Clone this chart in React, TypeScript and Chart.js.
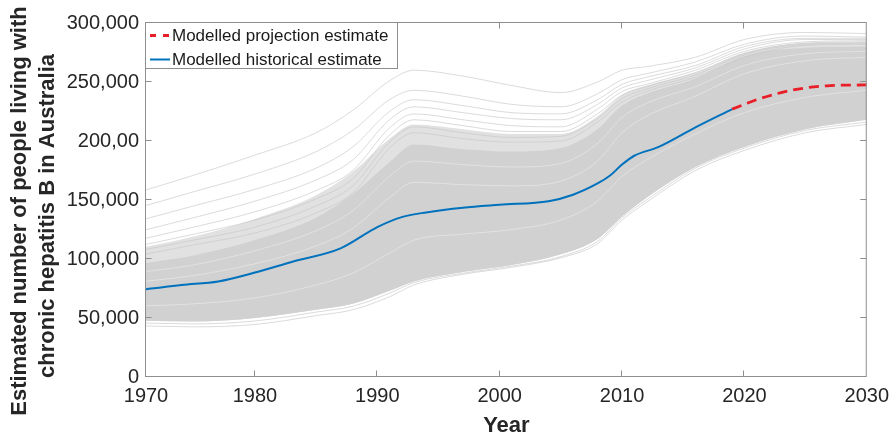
import { useEffect, useRef } from 'react';
import { Chart, registerables } from 'chart.js';

Chart.register(...registerables);

const FONT = '"Liberation Sans", Arial, Helvetica, sans-serif';

// Axis range and ticks
const X_MIN = 1971.1;
const X_MAX = 2030;
const X_TICKS = [1970, 1980, 1990, 2000, 2010, 2020, 2030];
const X_TICK_LABELS = ['1970', '1980', '1990', '2000', '2010', '2020', '2030'];
const Y_TICKS = [0, 50000, 100000, 150000, 200000, 250000, 300000];
const Y_TICK_LABELS = ['0', '50,000', '100,000', '150,000', '200,00', '250,000', '300,000'];

// Years at which each simulated trajectory is sampled
const SIM_YEARS = [1970, 1975, 1980, 1985, 1988, 1991, 1993, 1997, 2001, 2005, 2008, 2010, 2012, 2016, 2020, 2025, 2030];

// Simulated trajectories (thousands of people), highest first
const SIM_HIGH_1 = [155, 171, 188, 207, 226, 251, 260, 255, 247, 241, 250, 260, 263, 271, 286, 292, 291];
const SIM_HIGH_2 = [142, 157, 172, 191, 209, 235, 243, 238, 231, 229, 240, 252, 257, 267, 282, 289, 288];
const SIM_HIGH_3 = [131, 145, 159, 177, 195, 225, 235, 230, 224, 223, 235, 248, 254, 264, 280, 287, 287];
const SIM_HIGH_4 = [122, 135, 149, 167, 184, 218, 229, 224, 219, 218, 231, 245, 251, 262, 278, 286, 286];
const SIM_HIGH_5 = [115, 127, 140, 158, 175, 211, 223, 218, 213, 212, 227, 242, 248, 260, 276, 284, 285];
const SIM_HIGH_6 = [110, 121, 133, 151, 168, 205, 218, 213, 208, 208, 223, 239, 246, 258, 274, 283, 284];
const SIM_HIGH_7 = [106, 116, 127, 145, 162, 199, 212, 207, 203, 204, 219, 236, 244, 256, 273, 282, 283];
const SIM_HIGH_8 = [102, 112, 122, 139, 156, 194, 207, 202, 199, 200, 216, 233, 242, 254, 271, 281, 282];

// Edge of the moderately dense spread of runs, and of the dense bulk (thousands)
const SIM_SPREAD_UPPER = [108, 119, 134, 154, 174, 202, 214, 210, 206, 206, 221, 239, 247, 258, 275, 283, 284];
const SIM_BULK_UPPER = [95, 103, 116, 135, 155, 182, 197, 193, 191, 194, 210, 230, 240, 253, 272, 279, 280];
const SIM_BULK_LOWER = [48, 47, 50, 57, 62, 73, 81, 89, 95, 104, 117, 136, 152, 178, 195, 210, 218];

// Runs inside the bulk (thousands)
const SIM_MID_1 = [88, 95, 107, 124, 141, 170, 183, 180, 178, 181, 198, 220, 232, 246, 264, 274, 276];
const SIM_MID_2 = [80, 86, 96, 111, 126, 152, 165, 163, 162, 166, 183, 207, 221, 238, 257, 268, 271];
const SIM_MID_3 = [60, 62, 67, 78, 88, 105, 116, 121, 125, 133, 149, 170, 184, 206, 224, 237, 243];

// Lowest runs (thousands)
const SIM_LOW_1 = [43.6, 42.5, 44.5, 52, 57, 68, 78, 87, 93, 101, 113, 133, 148, 175, 192, 207, 214];
const SIM_LOW_2 = [46, 45, 47.5, 55, 60, 71, 80, 88, 94, 102, 115, 135, 150, 177, 194, 209, 216];

// Modelled historical estimate
const HIST_YEARS = [1970, 1974, 1977, 1980, 1983, 1987, 1990, 1992, 1994, 1997, 2000, 2004, 2006, 2008, 2009, 2010, 2011, 2013, 2016, 2019];
const HIST_VALUES = [73000, 78000, 81000, 88500, 97500, 109000, 127000, 135500, 139500, 143500, 146000, 149000, 154500, 164000, 170500, 180000, 187500, 195000, 211500, 227000];

// Modelled projection estimate
const PROJ_YEARS = [2019, 2020, 2021, 2023, 2025, 2027, 2030];
const PROJ_VALUES = [227000, 231000, 235000, 241000, 245000, 247000, 247500];

const BLUE = '#0072BD';
const RED = 'rgb(232, 30, 40)';
const AXIS_GREY = '#8e8e8e';
const TEXT = '#262626';

const simPoints = (vals: number[]) => SIM_YEARS.map((yr, i) => ({ x: yr, y: vals[i] * 1000 }));
const seriesPoints = (years: number[], vals: number[]) => years.map((yr, i) => ({ x: yr, y: vals[i] }));

const simLine = (vals: number[], color: string) => ({
  data: simPoints(vals),
  borderColor: color,
  borderWidth: 1,
  pointRadius: 0,
  fill: false,
  cubicInterpolationMode: 'monotone' as const,
  order: 5,
  clip: 0,
});

const simBand = (vals: number[], color: string, target: number | false, order: number) => ({
  data: simPoints(vals),
  borderColor: 'rgba(0,0,0,0)',
  backgroundColor: color,
  borderWidth: 0,
  pointRadius: 0,
  fill: target,
  cubicInterpolationMode: 'monotone' as const,
  order,
  clip: 0,
});

// Box round the plot with inward tick marks on all four sides
const framePlugin = {
  id: 'frame',
  afterDatasetsDraw(chart: any) {
    const { ctx, chartArea } = chart;
    const { left, right, top, bottom } = chartArea;
    const xs = chart.scales.x;
    const ys = chart.scales.y;
    ctx.save();
    ctx.strokeStyle = AXIS_GREY;
    ctx.lineWidth = 1;
    ctx.setLineDash([]);
    ctx.strokeRect(left - 0.5, top - 0.5, right - left, bottom - top);
    const len = 6;
    ctx.beginPath();
    xs.ticks.forEach((t: any) => {
      const px = Math.round(xs.getPixelForValue(t.value)) - 0.5;
      if (px <= left + 1 || px >= right - 1) return;
      ctx.moveTo(px, bottom - 0.5);
      ctx.lineTo(px, bottom - 0.5 - len);
      ctx.moveTo(px, top - 0.5);
      ctx.lineTo(px, top - 0.5 + len);
    });
    ys.ticks.forEach((t: any) => {
      const py = Math.round(ys.getPixelForValue(t.value)) - 0.5;
      if (py <= top + 1 || py >= bottom - 1) return;
      ctx.moveTo(left - 0.5, py);
      ctx.lineTo(left - 0.5 + len, py);
      ctx.moveTo(right - 0.5, py);
      ctx.lineTo(right - 0.5 - len, py);
    });
    ctx.stroke();
    ctx.restore();
  },
};

// Axis titles
const titlesPlugin = {
  id: 'axisTitles',
  afterDraw(chart: any) {
    const { ctx, chartArea } = chart;
    ctx.save();
    ctx.fillStyle = TEXT;
    ctx.font = `bold 22px ${FONT}`;
    ctx.textAlign = 'center';
    ctx.textBaseline = 'alphabetic';
    ctx.fillText('Year', (chartArea.left + chartArea.right) / 2, 432);
    const lines: [string, number, number][] = [
      ['Estimated number of people living with', 26, 211],
      ['chronic hepatitis B in Australia', 54, 216],
    ];
    lines.forEach(([text, x, y]) => {
      ctx.save();
      ctx.translate(x, y);
      ctx.rotate(-Math.PI / 2);
      ctx.fillText(text, 0, 0);
      ctx.restore();
    });
    ctx.restore();
  },
};

// Boxed legend in the upper-left corner of the plot
const legendPlugin = {
  id: 'boxLegend',
  afterDraw(chart: any) {
    const { ctx, chartArea } = chart;
    const entries = chart.data.datasets.filter((d: any) => d.label);
    const bx = chartArea.left - 0.5;
    const by = chartArea.top - 0.5;
    const bw = 252;
    const bh = 46;
    ctx.save();
    ctx.fillStyle = '#ffffff';
    ctx.fillRect(bx, by, bw, bh);
    ctx.strokeStyle = AXIS_GREY;
    ctx.lineWidth = 1;
    ctx.strokeRect(bx, by, bw, bh);
    ctx.font = `17px ${FONT}`;
    ctx.textBaseline = 'middle';
    ctx.textAlign = 'left';
    entries.forEach((d: any, i: number) => {
      const cy = chartArea.top + 12.5 + i * 24;
      ctx.beginPath();
      ctx.strokeStyle = d.borderColor;
      ctx.lineWidth = d.borderWidth;
      ctx.setLineDash(d.borderDash && d.borderDash.length ? [6, 7] : []);
      ctx.moveTo(chartArea.left + 4, cy);
      ctx.lineTo(chartArea.left + 24, cy);
      ctx.stroke();
      ctx.setLineDash([]);
      ctx.fillStyle = '#1a1a1a';
      ctx.fillText(d.label, chartArea.left + 26, cy + 1);
    });
    ctx.restore();
  },
};

export default function App() {
  const ref = useRef<HTMLCanvasElement>(null);

  useEffect(() => {
    const canvas = ref.current;
    if (!canvas) return;

    const outlier = 'rgba(200, 200, 200, 0.65)';
    const inner = 'rgba(232, 232, 232, 0.7)';

    const datasets: any[] = [
      {
        label: 'Modelled projection estimate',
        data: seriesPoints(PROJ_YEARS, PROJ_VALUES),
        borderColor: RED,
        borderWidth: 2.8,
        borderDash: [10, 6],
        pointRadius: 0,
        fill: false,
        cubicInterpolationMode: 'monotone',
        order: 0,
        clip: 0,
      },
      {
        label: 'Modelled historical estimate',
        data: seriesPoints(HIST_YEARS, HIST_VALUES),
        borderColor: BLUE,
        borderWidth: 2,
        pointRadius: 0,
        fill: false,
        cubicInterpolationMode: 'monotone',
        order: 1,
        clip: 0,
      },
      // index 2: moderately dense spread, filled down to the bulk's lower edge (index 4)
      simBand(SIM_SPREAD_UPPER, '#e1e1e1', 4, 9),
      // index 3: dense bulk
      simBand(SIM_BULK_UPPER, '#d1d1d1', 4, 8),
      // index 4
      simBand(SIM_BULK_LOWER, '#d1d1d1', false, 8),
      simLine(SIM_HIGH_1, outlier),
      simLine(SIM_HIGH_2, outlier),
      simLine(SIM_HIGH_3, outlier),
      simLine(SIM_HIGH_4, outlier),
      simLine(SIM_HIGH_5, outlier),
      simLine(SIM_HIGH_6, outlier),
      simLine(SIM_HIGH_7, outlier),
      simLine(SIM_HIGH_8, outlier),
      simLine(SIM_MID_1, inner),
      simLine(SIM_MID_2, inner),
      simLine(SIM_MID_3, inner),
      simLine(SIM_LOW_1, outlier),
      simLine(SIM_LOW_2, outlier),
    ];

    const chart = new Chart(canvas, {
      type: 'line',
      data: { datasets },
      options: {
        responsive: false,
        animation: false,
        devicePixelRatio: 1,
        layout: { padding: { top: 23, right: 22, left: 0, bottom: 0 } },
        plugins: { legend: { display: false }, tooltip: { enabled: false } },
        scales: {
          x: {
            type: 'linear',
            min: X_MIN,
            max: X_MAX,
            afterBuildTicks: (scale: any) => {
              scale.ticks = X_TICKS.map((v) => ({ value: Math.max(v, X_MIN) }));
            },
            afterFit: (scale: any) => {
              scale.height = 58;
            },
            grid: { display: false, drawTicks: false },
            border: { display: false },
            ticks: {
              autoSkip: false,
              maxRotation: 0,
              padding: 7,
              color: TEXT,
              font: { family: FONT, size: 20 },
              callback: (_v: any, i: number) => X_TICK_LABELS[i],
            },
          },
          y: {
            type: 'linear',
            min: 0,
            max: 300000,
            afterBuildTicks: (scale: any) => {
              scale.ticks = Y_TICKS.map((v) => ({ value: v }));
            },
            afterFit: (scale: any) => {
              scale.width = 146;
            },
            grid: { display: false, drawTicks: false },
            border: { display: false },
            ticks: {
              autoSkip: false,
              padding: 7,
              color: TEXT,
              font: { family: FONT, size: 20 },
              callback: (_v: any, i: number) => Y_TICK_LABELS[i],
            },
          },
        },
      },
      plugins: [framePlugin, titlesPlugin, legendPlugin],
    });

    return () => chart.destroy();
  }, []);

  return (
    <div style={{ position: 'fixed', left: 0, top: 0, width: 896, height: 435, background: '#ffffff' }}>
      <canvas ref={ref} width={896} height={435} style={{ display: 'block', width: 896, height: 435 }} />
    </div>
  );
}
